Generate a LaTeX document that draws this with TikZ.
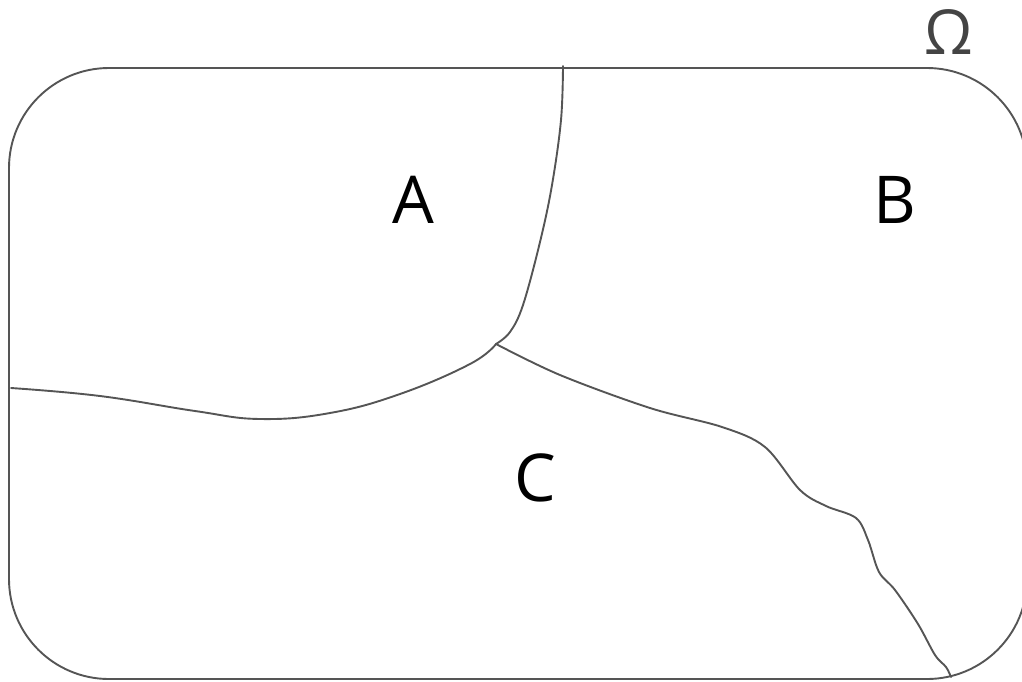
\documentclass[tikz,border=0pt]{standalone}
\usepackage{fontspec}
\setmainfont{Open Sans}
\usepackage{tikz}
\usetikzlibrary{positioning,calc}
\definecolor{edge}{HTML}{555555}
\definecolor{omega}{HTML}{444444}

\begin{document}
\begin{tikzpicture}[x=1pt, y=-1pt,
  border/.style={draw=edge, line width=1.9pt, rounded corners=100pt},
  cut/.style={draw=edge, line width=1.9pt, line cap=round},
  region/.style={font=\fontsize{66}{79}\selectfont, text=black, inner sep=0pt},
  setname/.style={font=\fontsize{62}{74}\selectfont, text=omega, inner sep=0pt}]
\useasboundingbox (0,0) rectangle (1022,681);
\draw[border] (9,68) rectangle (1027,679);
\coordinate (junction) at (496,344);
\coordinate (top) at (563,66);
\coordinate (left) at (11,388);
\coordinate (bottom) at (951,677);
% A | B
\draw[cut] plot[smooth, tension=0.6] coordinates
  {(top) (561,120) (552,185) (540,242) (523,305) (510,332) (junction)};
% A | C
\draw[cut] plot[smooth, tension=0.7] coordinates
  {(junction) (470,364) (400,394) (330,413) (260,419) (195,411) (100,396) (left)};
% B | C
\draw[cut] plot[smooth, tension=0.55] coordinates
  {(junction) (560,375) (650,408) (722,427) (765,447) (800,490) (826,506)
   (856,518) (868,540) (879,572) (895,590) (918,624) (935,655) (946,667) (bottom)};
\node[region] (A) at (413,200) {A};
\node[region] (B) at (895,200) {B};
\node[region] (C) at (535,478) {C};
\node[setname] (Omega) at (949,32) {Ω};
\end{tikzpicture}
\end{document}
